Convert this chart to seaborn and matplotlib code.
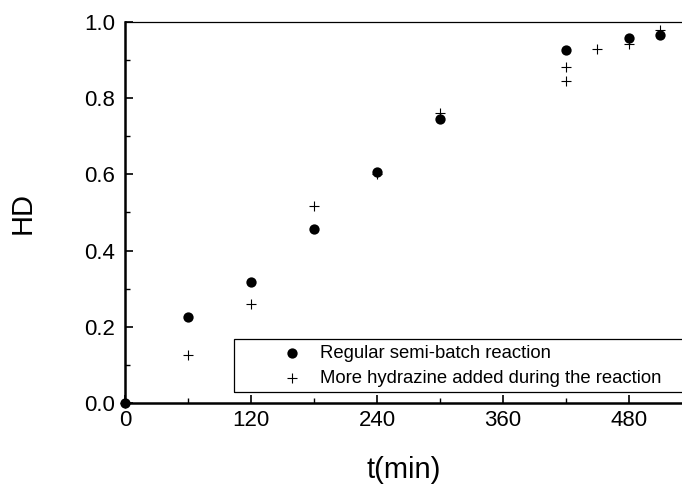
import matplotlib
matplotlib.use("Agg")
import matplotlib.pyplot as plt
import seaborn as sns
import pandas as pd
from matplotlib.ticker import MultipleLocator, FormatStrFormatter
from matplotlib.patches import Rectangle

t_regular = [0, 60, 120, 180, 240, 300, 420, 480, 510]
hd_regular = [0.0, 0.226, 0.318, 0.457, 0.606, 0.746, 0.927, 0.958, 0.967]
t_more = [0, 60, 120, 180, 240, 300, 420, 420, 450, 480, 510]
hd_more = [0.0, 0.125, 0.260, 0.516, 0.600, 0.762, 0.881, 0.845, 0.928, 0.941, 0.978]
label_regular = "Regular semi-batch reaction"
label_more = "More hydrazine added during the reaction"

sns.set_style("white")
plt.rcParams['font.family'] = ['Liberation Sans', 'DejaVu Sans']
plt.rcParams['text.color'] = 'black'
plt.rcParams['axes.labelcolor'] = 'black'

W, H = 682, 484
fig = plt.figure(figsize=(W/100, H/100), dpi=100)
ax = fig.add_axes([125/W, 1-403/H, 557/W, 381/H])

df_r = pd.DataFrame({"t": t_regular, "HD": hd_regular})
df_m = pd.DataFrame({"t": t_more, "HD": hd_more})
sns.scatterplot(data=df_r, x="t", y="HD", ax=ax, marker="o", color="black", s=55,
                edgecolor="black", linewidth=0, label=label_regular, zorder=3, clip_on=False)
sns.scatterplot(data=df_m, x="t", y="HD", ax=ax, marker="+", color="black", s=48,
                linewidth=0.8, label=label_more, zorder=4, clip_on=False)

ax.set_xlim(0, 530.5)
ax.set_ylim(0, 1.0)
ax.xaxis.set_major_locator(MultipleLocator(120))
ax.xaxis.set_minor_locator(MultipleLocator(60))
ax.yaxis.set_major_locator(MultipleLocator(0.2))
ax.yaxis.set_minor_locator(MultipleLocator(0.1))
ax.yaxis.set_major_formatter(FormatStrFormatter('%.1f'))
ax.tick_params(which='major', direction='in', length=5.5, width=1.2, labelsize=16,
               bottom=True, left=True, top=False, right=False, colors='black')
ax.tick_params(axis='x', which='major', pad=5)
ax.tick_params(axis='y', which='major', pad=7)
ax.tick_params(which='minor', direction='in', length=3.5, width=1.0,
               bottom=True, left=True, top=False, right=False, colors='black')

for side in ['left', 'bottom']:
    ax.spines[side].set_linewidth(1.8)
    ax.spines[side].set_color('black')
ax.spines['top'].set_linewidth(0.9)
ax.spines['top'].set_color('black')
ax.spines['right'].set_visible(False)

ax.set_xlabel("t(min)", fontsize=21, labelpad=18, color='black')
ax.set_ylabel("HD", fontsize=21, labelpad=34, color='black')

# legend box
fig.patches.append(Rectangle((234/W, 1-392/H), (700-234)/W, (392-339)/H,
                             transform=fig.transFigure, fill=False, edgecolor='black',
                             linewidth=0.9, zorder=5))
leg = ax.legend(loc='center left', bbox_to_anchor=(283/W, 1-366/H), bbox_transform=fig.transFigure,
                frameon=False, fontsize=13.3, borderpad=0, labelspacing=0.45,
                handletextpad=1.0, borderaxespad=0, handlelength=1.0, markerscale=1.0,
                labelcolor='black')

fig.savefig("out.png", dpi=100)
